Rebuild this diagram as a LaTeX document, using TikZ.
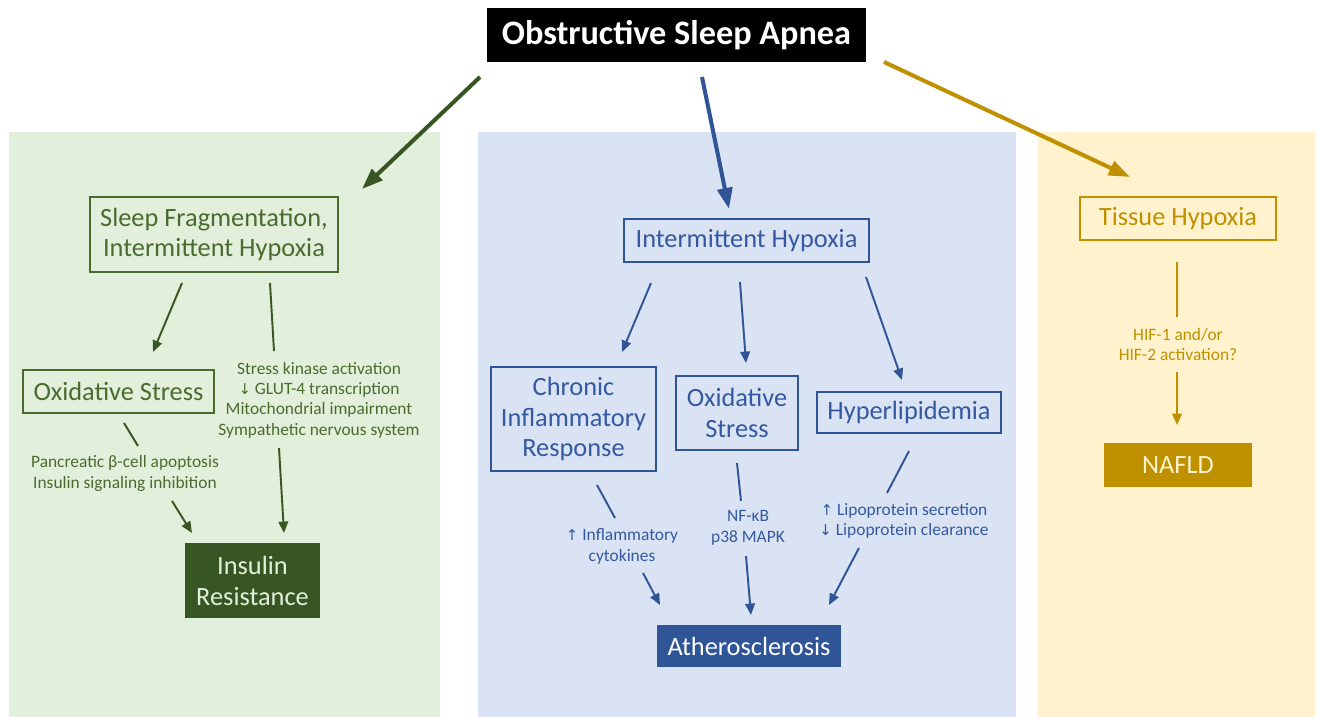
\documentclass[tikz,border=0pt]{standalone}
\usepackage{fontspec}
\setmainfont{Carlito}
\newfontfamily\symf{DejaVu Sans}
\usetikzlibrary{arrows.meta}
\definecolor{gdark}{HTML}{375623}
\definecolor{gtext}{HTML}{4A6B30}
\definecolor{gpanel}{HTML}{E2EFDA}
\definecolor{bdark}{HTML}{2F5597}
\definecolor{btext}{HTML}{3459A0}
\definecolor{bpanel}{HTML}{DAE3F3}
\definecolor{ydark}{HTML}{BF9000}
\definecolor{ypanel}{HTML}{FFF2CC}
\newcommand{\up}{{\symf\fontsize{8.5}{10}\selectfont\char"2191}}
\newcommand{\dn}{{\symf\fontsize{8.5}{10}\selectfont\char"2193}}
\begin{document}
\begin{tikzpicture}[x=0.02cm,y=-0.02cm,
  box/.style={draw, line width=0.8pt, inner sep=0pt, align=center, font=\fontsize{15}{17.6}\selectfont},
  fbox/.style={inner sep=0pt, align=center, font=\fontsize{15}{17.6}\selectfont},
  small/.style={inner sep=0pt, align=center, font=\fontsize{9.9}{11.6}\selectfont},
  bigarrow/.style={line width=2.3pt, -{Triangle[length=12pt,width=8.5pt]}},
  arr/.style={line width=1.1pt, -{Triangle[length=6.5pt,width=5.5pt]}},
  ln/.style={line width=1.1pt}]
\useasboundingbox (0,0) rectangle (1320,717);
% panels
\fill[gpanel] (9,132) rectangle (440,717);
\fill[bpanel] (478,132) rectangle (1016,717);
\fill[ypanel] (1038,132) rectangle (1315,717);
% title
\node[fbox, fill=black, text=white, minimum width=7.6cm, minimum height=1.08cm, font=\fontsize{19.5}{22}\selectfont\bfseries] (osa) at (676.5,35) {Obstructive Sleep Apnea};
% green panel
\node[box, draw=gtext, text=gtext, minimum width=4.96cm, minimum height=1.5cm] (sf) at (214,234.5) {Sleep Fragmentation,\\Intermittent Hypoxia};
\node[box, draw=gtext, text=gtext, minimum width=3.82cm, minimum height=0.86cm] (osg) at (118.5,391.5) {Oxidative Stress};
\node[small, text=gtext] (sk) at (319,400) {Stress kinase activation\\\dn\ GLUT-4 transcription\\Mitochondrial impairment\\Sympathetic nervous system};
\node[small, text=gtext] (pc) at (125,473.5) {Pancreatic β-cell apoptosis\\Insulin signaling inhibition};
\node[fbox, fill=gdark, text=gpanel, minimum width=2.7cm, minimum height=1.5cm] (ir) at (252.5,580.5) {Insulin\\Resistance};
% blue panel
\node[box, draw=bdark, text=btext, minimum width=4.9cm, minimum height=0.86cm] (ih) at (746.5,240.5) {Intermittent Hypoxia};
\node[box, draw=bdark, text=btext, minimum width=3.3cm, minimum height=2.08cm] (cir) at (573.5,419) {Chronic\\Inflammatory\\Response};
\node[box, draw=bdark, text=btext, minimum width=2.44cm, minimum height=1.48cm] (osb) at (737,413) {Oxidative\\Stress};
\node[box, draw=bdark, text=btext, minimum width=3.68cm, minimum height=0.82cm] (hl) at (909,412.5) {Hyperlipidemia};
\node[small, text=btext] (ic) at (622,546.5) {\up\ Inflammatory\\cytokines};
\node[small, text=btext] (nf) at (748,528) {NF-κB\\p38 MAPK};
\node[small, text=btext] (lp) at (904,521) {\up\ Lipoprotein secretion\\\dn\ Lipoprotein clearance};
\node[fbox, fill=bdark, text=white, minimum width=3.68cm, minimum height=0.84cm] (ath) at (749,646) {Atherosclerosis};
% yellow panel
\node[box, draw=ydark, text=ydark, minimum width=3.92cm, minimum height=0.86cm] (th) at (1178,218.5) {Tissue Hypoxia};
\node[small, text=ydark] (hif) at (1178,344.5) {HIF-1 and/or\\HIF-2 activation?};
\node[fbox, fill=ydark, text=ypanel, minimum width=2.96cm, minimum height=0.88cm] (nafld) at (1178,465) {NAFLD};
% coordinates
\coordinate (g0) at (480,77);   \coordinate (g1) at (362,189);
\coordinate (b0) at (702,77);   \coordinate (b1) at (729,209);
\coordinate (y0) at (884,62);   \coordinate (y1) at (1130,177);
\coordinate (ga0) at (182,283); \coordinate (ga1) at (153,352);
\coordinate (gb0) at (270,283); \coordinate (gb1) at (274,351);
\coordinate (gc0) at (124,423); \coordinate (gc1) at (138,446);
\coordinate (gd0) at (172,501); \coordinate (gd1) at (192,533);
\coordinate (ge0) at (279,448); \coordinate (ge1) at (284,533);
\coordinate (ba0) at (651,283); \coordinate (ba1) at (622,352);
\coordinate (bb0) at (740,282); \coordinate (bb1) at (746,363);
\coordinate (bc0) at (866,277); \coordinate (bc1) at (902,380);
\coordinate (bd0) at (597,485); \coordinate (bd1) at (615,518);
\coordinate (be0) at (643,573); \coordinate (be1) at (660,605);
\coordinate (bf0) at (737,463); \coordinate (bf1) at (741,501);
\coordinate (bg0) at (746,556); \coordinate (bg1) at (751,615);
\coordinate (bh0) at (909,451); \coordinate (bh1) at (887,493);
\coordinate (bi0) at (859,548); \coordinate (bi1) at (829,605);
\coordinate (ya0) at (1177,262); \coordinate (ya1) at (1177,317);
\coordinate (yb0) at (1177,372); \coordinate (yb1) at (1177,425);
% main arrows
\draw[bigarrow, gdark] (g0) -- (g1);
\draw[bigarrow, bdark] (b0) -- (b1);
\draw[bigarrow, ydark] (y0) -- (y1);
% green arrows
\draw[arr, gdark] (ga0) -- (ga1);
\draw[ln, gdark] (gb0) -- (gb1);
\draw[ln, gdark] (gc0) -- (gc1);
\draw[arr, gdark] (gd0) -- (gd1);
\draw[arr, gdark] (ge0) -- (ge1);
% blue arrows
\draw[arr, bdark] (ba0) -- (ba1);
\draw[arr, bdark] (bb0) -- (bb1);
\draw[arr, bdark] (bc0) -- (bc1);
\draw[ln, bdark] (bd0) -- (bd1);
\draw[arr, bdark] (be0) -- (be1);
\draw[ln, bdark] (bf0) -- (bf1);
\draw[arr, bdark] (bg0) -- (bg1);
\draw[ln, bdark] (bh0) -- (bh1);
\draw[arr, bdark] (bi0) -- (bi1);
% yellow arrows
\draw[ln, ydark] (ya0) -- (ya1);
\draw[arr, ydark] (yb0) -- (yb1);
\end{tikzpicture}
\end{document}
